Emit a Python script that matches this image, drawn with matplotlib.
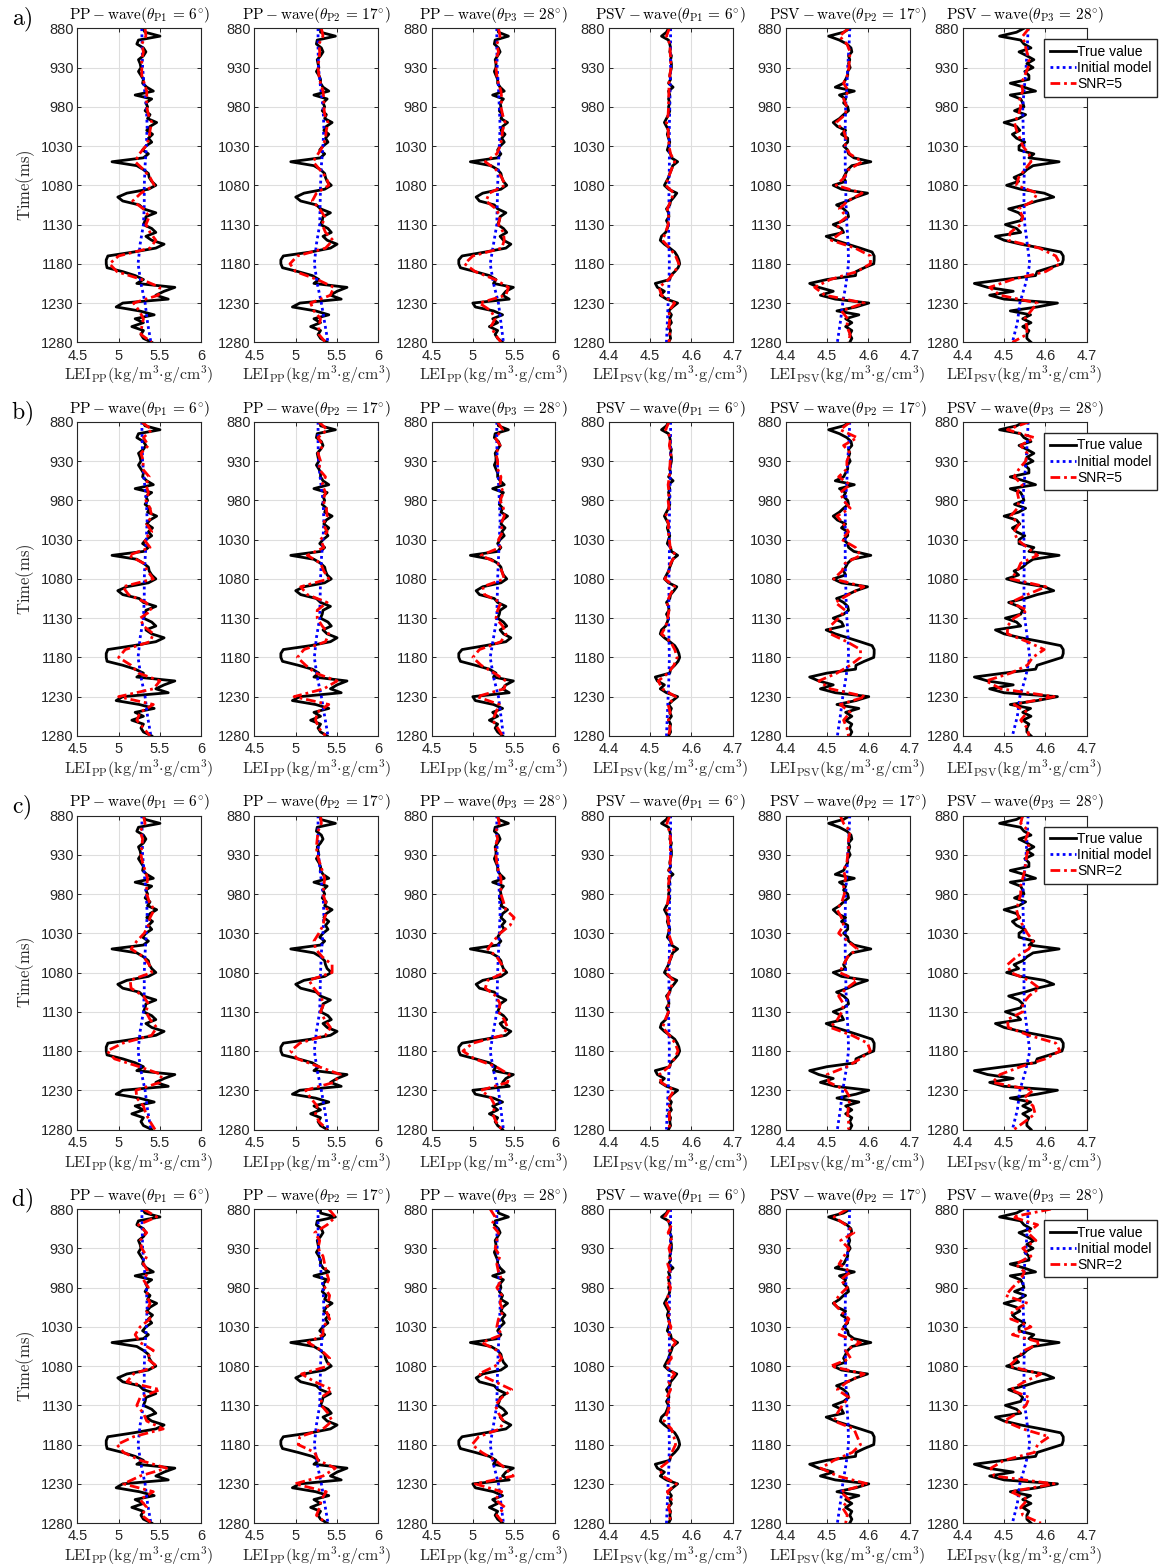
import numpy as np
import matplotlib
matplotlib.use("Agg")
import matplotlib.pyplot as plt

plt.rcParams["font.family"] = ["Liberation Sans", "DejaVu Sans"]
plt.rcParams["mathtext.fontset"] = "cm"

# time axes (ms)
T_TRUE = np.arange(880, 1281, 5)
T_INIT = np.arange(880, 1281, 25)
T_INV = np.arange(880, 1281, 10)

# true elastic impedance logs
true_pp1 = [5.29, 5.32, 5.50, 5.24, 5.22, 5.30, 5.33, 5.30, 5.24, 5.26,
            5.27, 5.24, 5.27, 5.30, 5.29, 5.34, 5.42, 5.20, 5.40, 5.33,
            5.35, 5.32, 5.38, 5.35, 5.46, 5.38, 5.34, 5.41, 5.36, 5.40,
            5.33, 5.29, 5.36, 5.30, 4.92, 5.22, 5.30, 5.36, 5.37, 5.40,
            5.45, 5.36, 5.10, 4.99, 5.05, 5.25, 5.30, 5.45, 5.33, 5.32,
            5.30, 5.40, 5.45, 5.33, 5.40, 5.55, 5.45, 5.18, 4.87, 4.85,
            4.85, 4.86, 5.05, 5.20, 5.30, 5.22, 5.68, 5.55, 5.45, 5.60,
            5.05, 4.97, 5.25, 5.43, 5.20, 5.30, 5.16, 5.30, 5.27, 5.30,
            5.40]
true_pp2 = [5.30, 5.30, 5.48, 5.26, 5.25, 5.31, 5.33, 5.30, 5.26, 5.27,
            5.28, 5.25, 5.28, 5.30, 5.30, 5.33, 5.40, 5.22, 5.38, 5.33,
            5.35, 5.32, 5.37, 5.35, 5.44, 5.37, 5.34, 5.40, 5.36, 5.39,
            5.33, 5.29, 5.35, 5.30, 4.94, 5.22, 5.30, 5.35, 5.36, 5.38,
            5.43, 5.35, 5.10, 5.00, 5.06, 5.25, 5.30, 5.42, 5.33, 5.32,
            5.30, 5.39, 5.43, 5.33, 5.38, 5.50, 5.42, 5.18, 4.85, 4.82,
            4.82, 4.84, 5.03, 5.20, 5.28, 5.22, 5.62, 5.50, 5.42, 5.55,
            5.05, 4.96, 5.24, 5.40, 5.22, 5.30, 5.18, 5.30, 5.27, 5.30,
            5.38]
true_pp3 = [5.30, 5.31, 5.43, 5.27, 5.26, 5.31, 5.33, 5.30, 5.27, 5.28,
            5.28, 5.26, 5.28, 5.30, 5.30, 5.33, 5.38, 5.24, 5.37, 5.33,
            5.34, 5.32, 5.36, 5.34, 5.42, 5.36, 5.34, 5.39, 5.35, 5.38,
            5.33, 5.30, 5.34, 5.30, 4.97, 5.22, 5.30, 5.34, 5.35, 5.37,
            5.41, 5.34, 5.12, 5.04, 5.08, 5.26, 5.30, 5.40, 5.33, 5.32,
            5.30, 5.37, 5.41, 5.33, 5.37, 5.46, 5.40, 5.15, 4.87, 4.83,
            4.83, 4.85, 5.03, 5.20, 5.28, 5.25, 5.49, 5.40, 5.36, 5.44,
            5.00, 5.03, 5.25, 5.36, 5.24, 5.30, 5.20, 5.30, 5.27, 5.30,
            5.36]
true_psv1 = [4.545, 4.540, 4.528, 4.545, 4.548, 4.550, 4.548, 4.552, 4.550, 4.552,
             4.552, 4.550, 4.548, 4.550, 4.545, 4.556, 4.545, 4.548, 4.545, 4.548,
             4.545, 4.548, 4.545, 4.540, 4.535, 4.540, 4.545, 4.542, 4.545, 4.548,
             4.545, 4.542, 4.550, 4.552, 4.567, 4.555, 4.552, 4.548, 4.545, 4.540,
             4.535, 4.545, 4.565, 4.558, 4.550, 4.548, 4.540, 4.545, 4.546, 4.540,
             4.545, 4.542, 4.538, 4.528, 4.525, 4.535, 4.548, 4.560, 4.566, 4.570,
             4.572, 4.568, 4.560, 4.550, 4.548, 4.513, 4.518, 4.535, 4.525, 4.540,
             4.567, 4.555, 4.545, 4.552, 4.548, 4.552, 4.545, 4.550, 4.548, 4.550,
             4.545]
true_psv2 = [4.556, 4.540, 4.504, 4.530, 4.548, 4.558, 4.560, 4.552, 4.555, 4.552,
             4.556, 4.550, 4.550, 4.545, 4.540, 4.520, 4.566, 4.530, 4.545, 4.540,
             4.550, 4.552, 4.540, 4.530, 4.515, 4.525, 4.545, 4.535, 4.550, 4.550,
             4.540, 4.550, 4.552, 4.565, 4.606, 4.560, 4.550, 4.545, 4.540, 4.545,
             4.515, 4.535, 4.598, 4.570, 4.550, 4.523, 4.540, 4.550, 4.552, 4.540,
             4.515, 4.535, 4.540, 4.498, 4.520, 4.550, 4.580, 4.609, 4.614, 4.614,
             4.613, 4.590, 4.570, 4.569, 4.500, 4.458, 4.480, 4.515, 4.484, 4.520,
             4.601, 4.570, 4.524, 4.577, 4.545, 4.560, 4.545, 4.560, 4.555, 4.560,
             4.555]
true_psv3 = [4.548, 4.530, 4.489, 4.540, 4.548, 4.565, 4.536, 4.555, 4.572, 4.555,
             4.570, 4.550, 4.560, 4.560, 4.515, 4.548, 4.576, 4.515, 4.540, 4.545,
             4.548, 4.525, 4.552, 4.535, 4.500, 4.530, 4.538, 4.520, 4.530, 4.550,
             4.536, 4.536, 4.572, 4.560, 4.633, 4.570, 4.555, 4.545, 4.524, 4.535,
             4.506, 4.540, 4.597, 4.620, 4.580, 4.550, 4.511, 4.535, 4.545, 4.540,
             4.503, 4.530, 4.540, 4.479, 4.500, 4.540, 4.590, 4.637, 4.643, 4.643,
             4.640, 4.610, 4.580, 4.576, 4.500, 4.428, 4.460, 4.522, 4.465, 4.500,
             4.629, 4.580, 4.515, 4.564, 4.545, 4.565, 4.545, 4.560, 4.555, 4.555,
             4.565]

# low-frequency initial models
init_pp1 = [5.28, 5.285, 5.29, 5.31, 5.335, 5.345, 5.335, 5.32, 5.31, 5.31, 5.30, 5.26, 5.235, 5.27, 5.32, 5.35, 5.39]
init_pp2 = [5.27, 5.27, 5.275, 5.30, 5.33, 5.34, 5.33, 5.31, 5.30, 5.295, 5.29, 5.25, 5.225, 5.26, 5.31, 5.35, 5.39]
init_pp3 = [5.29, 5.29, 5.295, 5.31, 5.32, 5.33, 5.32, 5.31, 5.30, 5.295, 5.29, 5.25, 5.21, 5.25, 5.31, 5.34, 5.37]
init_psv1 = [4.550, 4.550, 4.550, 4.549, 4.548, 4.547, 4.547, 4.547, 4.546, 4.546, 4.545, 4.546, 4.547, 4.546, 4.544, 4.542, 4.540]
init_psv2 = [4.555, 4.553, 4.550, 4.548, 4.545, 4.544, 4.544, 4.544, 4.545, 4.546, 4.548, 4.551, 4.552, 4.546, 4.538, 4.532, 4.525]
init_psv3 = [4.558, 4.556, 4.553, 4.549, 4.545, 4.546, 4.548, 4.549, 4.548, 4.548, 4.550, 4.556, 4.562, 4.552, 4.538, 4.532, 4.520]

# inversion results, (a)-(d)
inv_a_pp1 = [5.32, 5.33, 5.28, 5.30, 5.28, 5.28, 5.28, 5.31, 5.34, 5.34, 5.34, 5.36, 5.40, 5.38, 5.37, 5.33, 5.25, 5.20, 5.30, 5.38, 5.43,
             5.27, 5.17, 5.30, 5.37, 5.33, 5.38, 5.45, 5.38, 5.00, 4.89, 4.98, 5.28, 5.50, 5.48, 5.18, 5.25, 5.30, 5.28, 5.27, 5.40]
inv_a_pp2 = [5.31, 5.33, 5.28, 5.29, 5.28, 5.27, 5.28, 5.30, 5.33, 5.34, 5.34, 5.35, 5.39, 5.37, 5.36, 5.33, 5.27, 5.21, 5.29, 5.37, 5.40,
             5.25, 5.20, 5.29, 5.35, 5.32, 5.36, 5.45, 5.36, 5.02, 4.93, 5.00, 5.26, 5.46, 5.42, 5.18, 5.22, 5.30, 5.28, 5.28, 5.36]
inv_a_pp3 = [5.31, 5.33, 5.29, 5.31, 5.28, 5.28, 5.29, 5.31, 5.34, 5.35, 5.34, 5.36, 5.39, 5.36, 5.35, 5.33, 5.29, 5.15, 5.28, 5.35, 5.39,
             5.20, 5.16, 5.28, 5.33, 5.31, 5.37, 5.38, 5.35, 5.00, 4.90, 5.03, 5.27, 5.43, 5.40, 5.08, 5.22, 5.27, 5.22, 5.27, 5.34]
inv_a_psv1 = [4.547, 4.540, 4.548, 4.549, 4.550, 4.551, 4.548, 4.546, 4.546, 4.545, 4.545, 4.544, 4.540, 4.544, 4.545, 4.546, 4.550,
              4.560, 4.552, 4.545, 4.538, 4.558, 4.550, 4.542, 4.545, 4.544, 4.538, 4.530, 4.548, 4.562, 4.570, 4.560, 4.545, 4.522,
              4.528, 4.560, 4.546, 4.548, 4.546, 4.548, 4.546]
inv_a_psv2 = [4.552, 4.530, 4.548, 4.556, 4.554, 4.553, 4.549, 4.540, 4.552, 4.540, 4.548, 4.544, 4.522, 4.540, 4.546, 4.544, 4.555,
              4.585, 4.552, 4.542, 4.522, 4.585, 4.550, 4.530, 4.548, 4.524, 4.535, 4.510, 4.568, 4.605, 4.605, 4.572, 4.508, 4.470,
              4.495, 4.590, 4.535, 4.550, 4.548, 4.556, 4.552]
inv_a_psv3 = [4.560, 4.545, 4.550, 4.555, 4.560, 4.558, 4.550, 4.542, 4.545, 4.538, 4.540, 4.535, 4.525, 4.530, 4.538, 4.545, 4.560,
              4.565, 4.550, 4.535, 4.530, 4.580, 4.570, 4.535, 4.545, 4.540, 4.515, 4.510, 4.585, 4.625, 4.635, 4.600, 4.520, 4.465,
              4.490, 4.580, 4.565, 4.550, 4.555, 4.555, 4.520]

inv_b_pp1 = [5.28, 5.40, 5.30, 5.36, 5.27, 5.30, 5.29, 5.37, 5.33, 5.36, 5.33, 5.38, 5.40, 5.34, 5.40, 5.31, 5.38, 5.12, 5.30, 5.35, 5.42,
             5.05, 5.12, 5.33, 5.40, 5.26, 5.30, 5.42, 5.38, 5.08, 5.00, 5.15, 5.24, 5.50, 5.42, 5.00, 5.42, 5.26, 5.22, 5.30, 5.38]
inv_b_pp2 = [5.28, 5.38, 5.27, 5.33, 5.27, 5.30, 5.28, 5.36, 5.32, 5.36, 5.33, 5.37, 5.38, 5.33, 5.38, 5.30, 5.34, 5.14, 5.30, 5.34, 5.40,
             5.06, 5.14, 5.38, 5.26, 5.26, 5.32, 5.40, 5.36, 5.10, 5.02, 5.12, 5.24, 5.50, 5.34, 4.98, 5.40, 5.26, 5.24, 5.28, 5.36]
inv_b_pp3 = [5.30, 5.36, 5.27, 5.33, 5.28, 5.30, 5.30, 5.34, 5.33, 5.37, 5.33, 5.37, 5.38, 5.34, 5.36, 5.31, 5.33, 5.10, 5.30, 5.35, 5.38,
             5.12, 5.14, 5.34, 5.30, 5.28, 5.36, 5.40, 5.34, 5.08, 5.00, 5.10, 5.26, 5.40, 5.38, 5.05, 5.32, 5.28, 5.24, 5.30, 5.36]
inv_b_psv1 = [4.546, 4.538, 4.550, 4.547, 4.551, 4.549, 4.548, 4.547, 4.544, 4.546, 4.544, 4.546, 4.538, 4.545, 4.544, 4.547, 4.549,
              4.562, 4.550, 4.546, 4.536, 4.560, 4.549, 4.541, 4.546, 4.543, 4.539, 4.528, 4.550, 4.560, 4.566, 4.558, 4.544, 4.520,
              4.530, 4.562, 4.544, 4.549, 4.545, 4.549, 4.545]
inv_b_psv2 = [4.556, 4.532, 4.573, 4.540, 4.556, 4.548, 4.548, 4.528, 4.556, 4.532, 4.540, 4.556, 4.524, 4.540, 4.552, 4.536, 4.569,
              4.581, 4.544, 4.536, 4.516, 4.589, 4.552, 4.520, 4.544, 4.528, 4.508, 4.508, 4.548, 4.581, 4.581, 4.556, 4.524, 4.480,
              4.508, 4.593, 4.532, 4.556, 4.540, 4.548, 4.552]
inv_b_psv3 = [4.560, 4.508, 4.573, 4.540, 4.556, 4.552, 4.536, 4.524, 4.544, 4.532, 4.536, 4.532, 4.516, 4.536, 4.524, 4.532, 4.556,
              4.581, 4.540, 4.532, 4.516, 4.601, 4.556, 4.516, 4.556, 4.524, 4.508, 4.508, 4.556, 4.597, 4.569, 4.556, 4.516, 4.456,
              4.492, 4.621, 4.524, 4.556, 4.540, 4.556, 4.560]

inv_c_pp1 = [5.30, 5.32, 5.26, 5.29, 5.28, 5.27, 5.29, 5.32, 5.35, 5.34, 5.34, 5.37, 5.43, 5.38, 5.36, 5.31, 5.22, 5.15, 5.30, 5.37, 5.40,
             5.14, 5.15, 5.30, 5.36, 5.33, 5.38, 5.46, 5.40, 5.05, 4.86, 4.95, 5.25, 5.52, 5.50, 5.21, 5.22, 5.30, 5.33, 5.38, 5.44]
inv_c_pp2 = [5.30, 5.31, 5.27, 5.26, 5.25, 5.26, 5.29, 5.32, 5.35, 5.34, 5.33, 5.36, 5.38, 5.35, 5.33, 5.28, 5.22, 5.24, 5.32, 5.44, 5.44,
             5.16, 5.22, 5.30, 5.34, 5.30, 5.35, 5.42, 5.36, 5.05, 4.94, 5.02, 5.28, 5.54, 5.46, 5.12, 5.18, 5.26, 5.24, 5.28, 5.38]
inv_c_pp3 = [5.30, 5.32, 5.28, 5.30, 5.27, 5.28, 5.29, 5.31, 5.34, 5.34, 5.34, 5.37, 5.40, 5.50, 5.45, 5.33, 5.25, 5.18, 5.29, 5.35, 5.38,
             5.18, 5.15, 5.28, 5.33, 5.31, 5.38, 5.42, 5.36, 5.00, 4.88, 5.02, 5.28, 5.44, 5.42, 5.10, 5.22, 5.27, 5.24, 5.28, 5.35]
inv_c_psv1 = [4.548, 4.541, 4.547, 4.550, 4.549, 4.550, 4.549, 4.546, 4.547, 4.544, 4.546, 4.543, 4.541, 4.543, 4.546, 4.545, 4.551,
              4.558, 4.551, 4.544, 4.539, 4.556, 4.551, 4.543, 4.544, 4.545, 4.537, 4.531, 4.547, 4.561, 4.568, 4.559, 4.546, 4.523,
              4.527, 4.558, 4.547, 4.547, 4.547, 4.547, 4.547]
inv_c_psv2 = [4.532, 4.540, 4.556, 4.552, 4.552, 4.550, 4.548, 4.540, 4.545, 4.540, 4.542, 4.536, 4.524, 4.535, 4.540, 4.528, 4.550,
              4.573, 4.550, 4.540, 4.530, 4.573, 4.548, 4.528, 4.540, 4.536, 4.525, 4.508, 4.560, 4.598, 4.605, 4.580, 4.548, 4.500,
              4.505, 4.545, 4.556, 4.552, 4.550, 4.552, 4.552]
inv_c_psv3 = [4.545, 4.540, 4.560, 4.552, 4.560, 4.555, 4.552, 4.550, 4.545, 4.540, 4.540, 4.535, 4.530, 4.535, 4.545, 4.556, 4.570,
              4.560, 4.530, 4.508, 4.516, 4.560, 4.585, 4.560, 4.545, 4.545, 4.508, 4.510, 4.560, 4.625, 4.635, 4.600, 4.540, 4.490,
              4.472, 4.570, 4.548, 4.570, 4.575, 4.550, 4.524]

inv_d_pp1 = [5.30, 5.46, 5.24, 5.34, 5.26, 5.28, 5.34, 5.30, 5.36, 5.30, 5.36, 5.34, 5.38, 5.34, 5.38, 5.26, 5.20, 5.26, 5.42, 5.34, 5.46,
             5.18, 5.10, 5.50, 5.26, 5.22, 5.30, 5.34, 5.54, 5.18, 4.98, 5.06, 5.26, 5.58, 5.26, 5.06, 5.42, 5.26, 5.34, 5.28, 5.40]
inv_d_pp2 = [5.40, 5.48, 5.38, 5.23, 5.29, 5.27, 5.33, 5.35, 5.37, 5.40, 5.35, 5.41, 5.39, 5.37, 5.41, 5.33, 5.33, 5.15, 5.31, 5.41, 5.39,
             5.07, 5.23, 5.44, 5.31, 5.31, 5.39, 5.44, 5.33, 5.05, 5.03, 5.23, 5.27, 5.48, 5.33, 4.99, 5.37, 5.31, 5.29, 5.25, 5.37]
inv_d_pp3 = [5.21, 5.27, 5.23, 5.31, 5.29, 5.27, 5.33, 5.29, 5.31, 5.35, 5.29, 5.35, 5.33, 5.37, 5.31, 5.29, 5.35, 5.11, 5.29, 5.35, 5.27,
             5.07, 5.27, 5.47, 5.35, 5.27, 5.31, 5.37, 5.33, 5.07, 4.99, 5.11, 5.27, 5.39, 5.49, 5.03, 5.35, 5.27, 5.39, 5.29, 5.37]
inv_d_psv1 = [4.548, 4.536, 4.552, 4.544, 4.553, 4.546, 4.551, 4.543, 4.549, 4.542, 4.550, 4.544, 4.540, 4.549, 4.543, 4.551, 4.546,
              4.562, 4.548, 4.552, 4.538, 4.560, 4.546, 4.550, 4.541, 4.548, 4.542, 4.534, 4.552, 4.558, 4.562, 4.553, 4.548, 4.524,
              4.530, 4.564, 4.542, 4.552, 4.545, 4.551, 4.544]
inv_d_psv2 = [4.549, 4.517, 4.545, 4.565, 4.533, 4.553, 4.541, 4.529, 4.557, 4.533, 4.549, 4.529, 4.517, 4.533, 4.553, 4.541, 4.529,
              4.581, 4.545, 4.557, 4.509, 4.590, 4.549, 4.525, 4.553, 4.537, 4.525, 4.517, 4.565, 4.573, 4.581, 4.561, 4.517, 4.485,
              4.525, 4.598, 4.533, 4.553, 4.537, 4.549, 4.545]
inv_d_psv3 = [4.613, 4.520, 4.581, 4.557, 4.577, 4.545, 4.565, 4.528, 4.549, 4.540, 4.520, 4.504, 4.557, 4.520, 4.516, 4.565, 4.520,
              4.589, 4.549, 4.532, 4.512, 4.589, 4.549, 4.516, 4.561, 4.553, 4.532, 4.500, 4.545, 4.609, 4.581, 4.573, 4.500, 4.468,
              4.476, 4.621, 4.516, 4.557, 4.540, 4.545, 4.589]

ROW_TAGS = ["a", "b", "c", "d"]
ROW_SNR = [5, 5, 2, 2]
ROW_INV = [
    [inv_a_pp1, inv_a_pp2, inv_a_pp3, inv_a_psv1, inv_a_psv2, inv_a_psv3],
    [inv_b_pp1, inv_b_pp2, inv_b_pp3, inv_b_psv1, inv_b_psv2, inv_b_psv3],
    [inv_c_pp1, inv_c_pp2, inv_c_pp3, inv_c_psv1, inv_c_psv2, inv_c_psv3],
    [inv_d_pp1, inv_d_pp2, inv_d_pp3, inv_d_psv1, inv_d_psv2, inv_d_psv3],
]
COL_WAVE = ["PP", "PP", "PP", "PSV", "PSV", "PSV"]
COL_ANGLE = ["1", "2", "3", "1", "2", "3"]
COL_DEG = [6, 17, 28, 6, 17, 28]
COL_TRUE = [true_pp1, true_pp2, true_pp3, true_psv1, true_psv2, true_psv3]
COL_INIT = [init_pp1, init_pp2, init_pp3, init_psv1, init_psv2, init_psv3]

W, H = 1166, 1568
AX_W, AX_H = 124, 314
DARK = "#262626"

fig = plt.figure(figsize=(W / 100, H / 100), dpi=100)

for r in range(4):
    top = 28.3 + 393.6 * r
    for c in range(6):
        left = 77.3 + 177.1 * c
        ax = fig.add_axes([left / W, 1 - (top + AX_H) / H, AX_W / W, AX_H / H])
        l1, = ax.plot(COL_TRUE[c], T_TRUE, color="k", lw=2.0, label="True value")
        l2, = ax.plot(COL_INIT[c], T_INIT, color="b", ls=(0, (1, 1.2)), lw=2.0,
                      label="Initial model")
        l3, = ax.plot(ROW_INV[r][c], T_INV, color="r", ls=(0, (3.5, 1.4, 1, 1.4)), lw=2.0,
                      label="SNR=%d" % ROW_SNR[r])

        if COL_WAVE[c] == "PP":
            ax.set_xlim(4.5, 6)
            ax.set_xticks([4.5, 5, 5.5, 6])
            ax.set_xticklabels(["4.5", "5", "5.5", "6"])
        else:
            ax.set_xlim(4.4, 4.7)
            ax.set_xticks([4.4, 4.5, 4.6, 4.7])
            ax.set_xticklabels(["4.4", "4.5", "4.6", "4.7"])
        ax.set_ylim(1280, 880)
        ax.set_yticks(np.arange(880, 1281, 50))

        ax.grid(True, color="#dedede", lw=0.8)
        ax.set_axisbelow(True)
        ax.tick_params(direction="in", length=3, width=0.7, colors=DARK,
                       labelsize=10.5, top=True, right=True)
        ax.tick_params(axis="y", pad=2.5)
        ax.tick_params(axis="x", pad=4.5)
        for s in ax.spines.values():
            s.set_color(DARK)
            s.set_linewidth(0.8)

        ax.set_title(r"$\mathrm{%s-wave}(\theta_{\mathrm{P%s}}\,=\,%d^{\circ})$"
                     % (COL_WAVE[c], COL_ANGLE[c], COL_DEG[c]),
                     fontsize=11, pad=6.5, color="k")
        ax.set_xlabel(r"$\mathrm{LEI_{%s}(kg/m^{3}{\cdot}g/cm^{3})}$" % COL_WAVE[c],
                      fontsize=11.5, labelpad=1, color=DARK)

        if c == 0:
            fig.text(26 / W, 1 - (top + AX_H / 2) / H, r"$\mathrm{Time(ms)}$",
                     rotation=90, ha="center", va="center", fontsize=12, color=DARK)
            fig.text(22 / W, 1 - (top - 8) / H, r"$\mathrm{%s)}$" % ROW_TAGS[r],
                     ha="center", va="center", fontsize=17, color="k")
        if c == 5:
            fig.legend(handles=[l1, l2, l3], loc="upper left",
                       bbox_to_anchor=(1044 / W, 1 - (top + 11) / H),
                       bbox_transform=fig.transFigure, fontsize=10,
                       frameon=True, fancybox=False, framealpha=1,
                       edgecolor=DARK, borderaxespad=0, borderpad=0.4,
                       handlelength=1.9, handletextpad=0.1, labelspacing=0.15)

fig.savefig("out.png", dpi=100)
